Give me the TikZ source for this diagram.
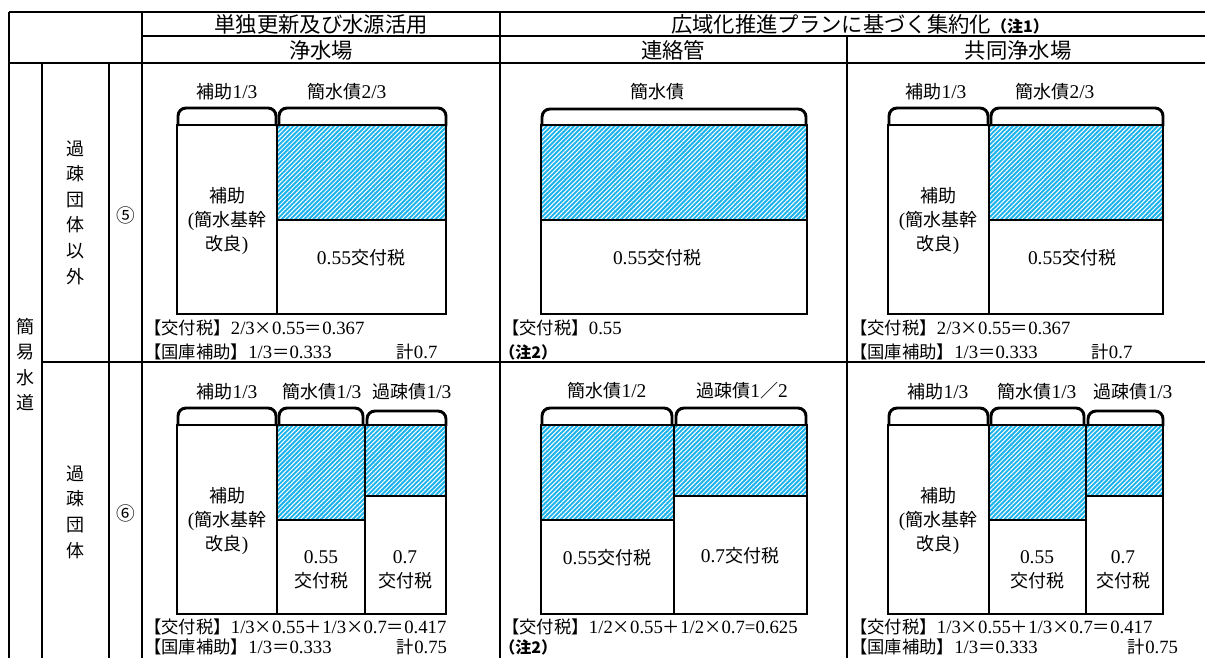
\documentclass[tikz,border=0pt]{standalone}
\usepackage{fontspec}
\usetikzlibrary{patterns.meta}
\setmainfont{Liberation Serif}[Scale=1.08]
\newfontfamily\J{Noto Sans CJK JP}
\newcommand\jp[1]{{\J#1}}
\definecolor{hatchblue}{RGB}{28,178,236}
\tikzset{
  lbl/.style={inner sep=0pt, align=center, font=\fontsize{13.5}{18}\selectfont},
  btm/.style={inner sep=0pt, anchor=west, font=\fontsize{13}{16}\selectfont},
  note/.style={inner sep=0pt, anchor=west, font=\fontsize{12}{14}\selectfont\J\bfseries},
  hdr/.style={inner sep=0pt, font=\fontsize{16}{19}\selectfont\J},
  vlbl/.style={inner sep=0pt, align=center, font=\fontsize{13.5}{19.2}\selectfont\J},
  thk/.style={line width=2.2pt},
  med/.style={line width=1.5pt},
  boxline/.style={line width=1.9pt},
  brk/.style={line width=2.2pt, rounded corners=6pt},
  hatch/.style={fill=hatchblue, postaction={pattern={Lines[angle=45,distance=2.4pt,line width=0.75pt]}, pattern color=white}},
}
\begin{document}
\begin{tikzpicture}[x=0.75pt,y=-0.75pt]
\useasboundingbox (0,0) rectangle (1205,657);
\clip (0,0) rectangle (1205,657);
\fill[white] (0,0) rectangle (1205,657);

% ---------- table grid ----------
\draw[thk] (9,12) -- (9,700);
\draw[med] (9,12) -- (1210,12);
\draw[med] (142,36) -- (1210,36);
\draw[thk] (9,63) -- (1210,63);
\draw[thk] (42,63) -- (42,700);
\draw[med] (109,63) -- (109,700);
\draw[thk] (142,12) -- (142,700);
\draw[med] (500,12) -- (500,700);
\draw[med] (847,36) -- (847,700);
\draw[med] (42,362) -- (1210,362);

% ---------- headers ----------
\node[hdr] (h1) at (321,24) {単独更新及び水源活用};
\node[hdr] (h2) at (860,24) {広域化推進プランに基づく集約化{\fontsize{12}{14}\selectfont\bfseries （注1）}};
\node[hdr] (h3) at (321,50) {浄水場};
\node[hdr] (h4) at (673,50) {連絡管};
\node[hdr] (h5) at (1018,50) {共同浄水場};

% ---------- row labels ----------
\node[vlbl] (r0) at (25.5,364.5) {簡\\易\\水\\道};
\node[vlbl] (r1) at (75.5,212.5) {過\\疎\\団\\体\\以\\外};
\node[vlbl] (r2) at (75.5,512) {過\\疎\\団\\体};
\node[lbl,font=\fontsize{14}{16}\selectfont\J] (n5) at (126,215) {⑤};
\node[lbl,font=\fontsize{14}{16}\selectfont\J] (n6) at (126,513) {⑥};

% ================= ROW 5 =================
% --- col A
\fill[hatch] (277,125) rectangle (446,220);
\draw[boxline] (177,125) rectangle (446,314);
\draw[boxline] (277,125) -- (277,314);
\draw[boxline] (277,220) -- (446,220);
\draw[brk] (178,126) -- (178,108) -- (276,108) -- (276,126);
\draw[brk] (279,126) -- (279,108) -- (446,108) -- (446,126);
\node[lbl] (a5t1) at (227,92) {\jp{補助}1/3};
\node[lbl] (a5t2) at (347,92) {\jp{簡水債}2/3};
\node[lbl] (a5b1) at (227,221) {\jp{補助}\\(\jp{簡水基幹}\\\jp{改良})};
\node[lbl] (a5b2) at (361,258) {0.55\jp{交付税}};
\node[btm] (a5f1) at (144,328) {\jp{【交付税】}2/3\jp{×}0.55\jp{＝}0.367};
\node[btm] (a5f2) at (144,352) {\jp{【国庫補助】}1/3\jp{＝}0.333};
\node[btm,anchor=center] (a5f3) at (417,352) {\jp{計}0.7};

% --- col B
\fill[hatch] (541,125) rectangle (807,220);
\draw[boxline] (541,125) rectangle (807,314);
\draw[boxline] (541,220) -- (807,220);
\draw[brk] (542,126) -- (542,109) -- (806,109) -- (806,126);
\node[lbl] (b5t1) at (657,92) {\jp{簡水債}};
\node[lbl] (b5b1) at (657,258) {0.55\jp{交付税}};
\node[btm] (b5f1) at (502,328) {\jp{【交付税】}0.55};
\node[note] (b5f2) at (499,352) {（注2）};

% --- col C
\fill[hatch] (989,125) rectangle (1163,220);
\draw[boxline] (888,125) rectangle (1163,314);
\draw[boxline] (989,125) -- (989,314);
\draw[boxline] (989,220) -- (1163,220);
\draw[brk] (889,126) -- (889,108) -- (988,108) -- (988,126);
\draw[brk] (991,126) -- (991,108) -- (1163,108) -- (1163,126);
\node[lbl] (c5t1) at (936,92) {\jp{補助}1/3};
\node[lbl] (c5t2) at (1055,92) {\jp{簡水債}2/3};
\node[lbl] (c5b1) at (938,221) {\jp{補助}\\(\jp{簡水基幹}\\\jp{改良})};
\node[lbl] (c5b2) at (1072,258) {0.55\jp{交付税}};
\node[btm] (c5f1) at (850,328) {\jp{【交付税】}2/3\jp{×}0.55\jp{＝}0.367};
\node[btm] (c5f2) at (850,352) {\jp{【国庫補助】}1/3\jp{＝}0.333};
\node[btm,anchor=center] (c5f3) at (1112,352) {\jp{計}0.7};

% ================= ROW 6 =================
% --- col A
\fill[hatch] (277,425) rectangle (365,520);
\fill[hatch] (365,425) rectangle (446,496);
\draw[boxline] (177,425) rectangle (446,614);
\draw[boxline] (277,425) -- (277,614);
\draw[boxline] (365,425) -- (365,614);
\draw[boxline] (277,520) -- (365,520);
\draw[boxline] (365,496) -- (446,496);
\draw[brk] (178,426) -- (178,408) -- (276,408) -- (276,426);
\draw[brk] (279,426) -- (279,408) -- (363,408) -- (363,426);
\draw[brk] (367,426) -- (367,411) -- (446,411) -- (446,426);
\node[lbl] (a6t1) at (227,392) {\jp{補助}1/3};
\node[lbl] (a6t2) at (322,392) {\jp{簡水債}1/3};
\node[lbl] (a6t3) at (412,392) {\jp{過疎債}1/3};
\node[lbl] (a6b1) at (227,521) {\jp{補助}\\(\jp{簡水基幹}\\\jp{改良})};
\node[lbl] (a6b2) at (321,569.5) {0.55\\\jp{交付税}};
\node[lbl] (a6b3) at (405,569.5) {0.7\\\jp{交付税}};
\node[btm] (a6f1) at (144,627) {\jp{【交付税】}1/3\jp{×}0.55\jp{＋}1/3\jp{×}0.7\jp{＝}0.417};
\node[btm] (a6f2) at (144,647) {\jp{【国庫補助】}1/3\jp{＝}0.333};
\node[btm,anchor=center] (a6f3) at (422,647) {\jp{計}0.75};

% --- col B
\fill[hatch] (541,425) rectangle (674,520);
\fill[hatch] (674,425) rectangle (807,496);
\draw[boxline] (541,425) rectangle (807,614);
\draw[boxline] (674,425) -- (674,614);
\draw[boxline] (541,520) -- (674,520);
\draw[boxline] (674,496) -- (807,496);
\draw[brk] (542,426) -- (542,408) -- (672,408) -- (672,426);
\draw[brk] (676,426) -- (676,408) -- (806,408) -- (806,426);
\node[lbl] (b6t1) at (607,391) {\jp{簡水債}1/2};
\node[lbl] (b6t2) at (742,391) {\jp{過疎債}1\jp{／}2};
\node[lbl] (b6b1) at (607,558) {0.55\jp{交付税}};
\node[lbl] (b6b2) at (740,556) {0.7\jp{交付税}};
\node[btm] (b6f1) at (502,627) {\jp{【交付税】}1/2\jp{×}0.55\jp{＋}1/2\jp{×}0.7=0.625};
\node[note] (b6f2) at (499,647) {（注2）};

% --- col C
\fill[hatch] (989,425) rectangle (1086,520);
\fill[hatch] (1086,425) rectangle (1163,496);
\draw[boxline] (888,425) rectangle (1163,614);
\draw[boxline] (989,425) -- (989,614);
\draw[boxline] (1086,425) -- (1086,614);
\draw[boxline] (989,520) -- (1086,520);
\draw[boxline] (1086,496) -- (1163,496);
\draw[brk] (889,426) -- (889,408) -- (988,408) -- (988,426);
\draw[brk] (991,426) -- (991,408) -- (1084,408) -- (1084,426);
\draw[brk] (1088,426) -- (1088,411) -- (1163,411) -- (1163,426);
\node[lbl] (c6t1) at (938,392) {\jp{補助}1/3};
\node[lbl] (c6t2) at (1037,392) {\jp{簡水債}1/3};
\node[lbl] (c6t3) at (1133,392) {\jp{過疎債}1/3};
\node[lbl] (c6b1) at (938,521) {\jp{補助}\\(\jp{簡水基幹}\\\jp{改良})};
\node[lbl] (c6b2) at (1037,569.5) {0.55\\\jp{交付税}};
\node[lbl] (c6b3) at (1123,569.5) {0.7\\\jp{交付税}};
\node[btm] (c6f1) at (850,627) {\jp{【交付税】}1/3\jp{×}0.55\jp{＋}1/3\jp{×}0.7\jp{＝}0.417};
\node[btm] (c6f2) at (850,647) {\jp{【国庫補助】}1/3\jp{＝}0.333};
\node[btm,anchor=center] (c6f3) at (1153,647) {\jp{計}0.75};
\end{tikzpicture}
\end{document}
